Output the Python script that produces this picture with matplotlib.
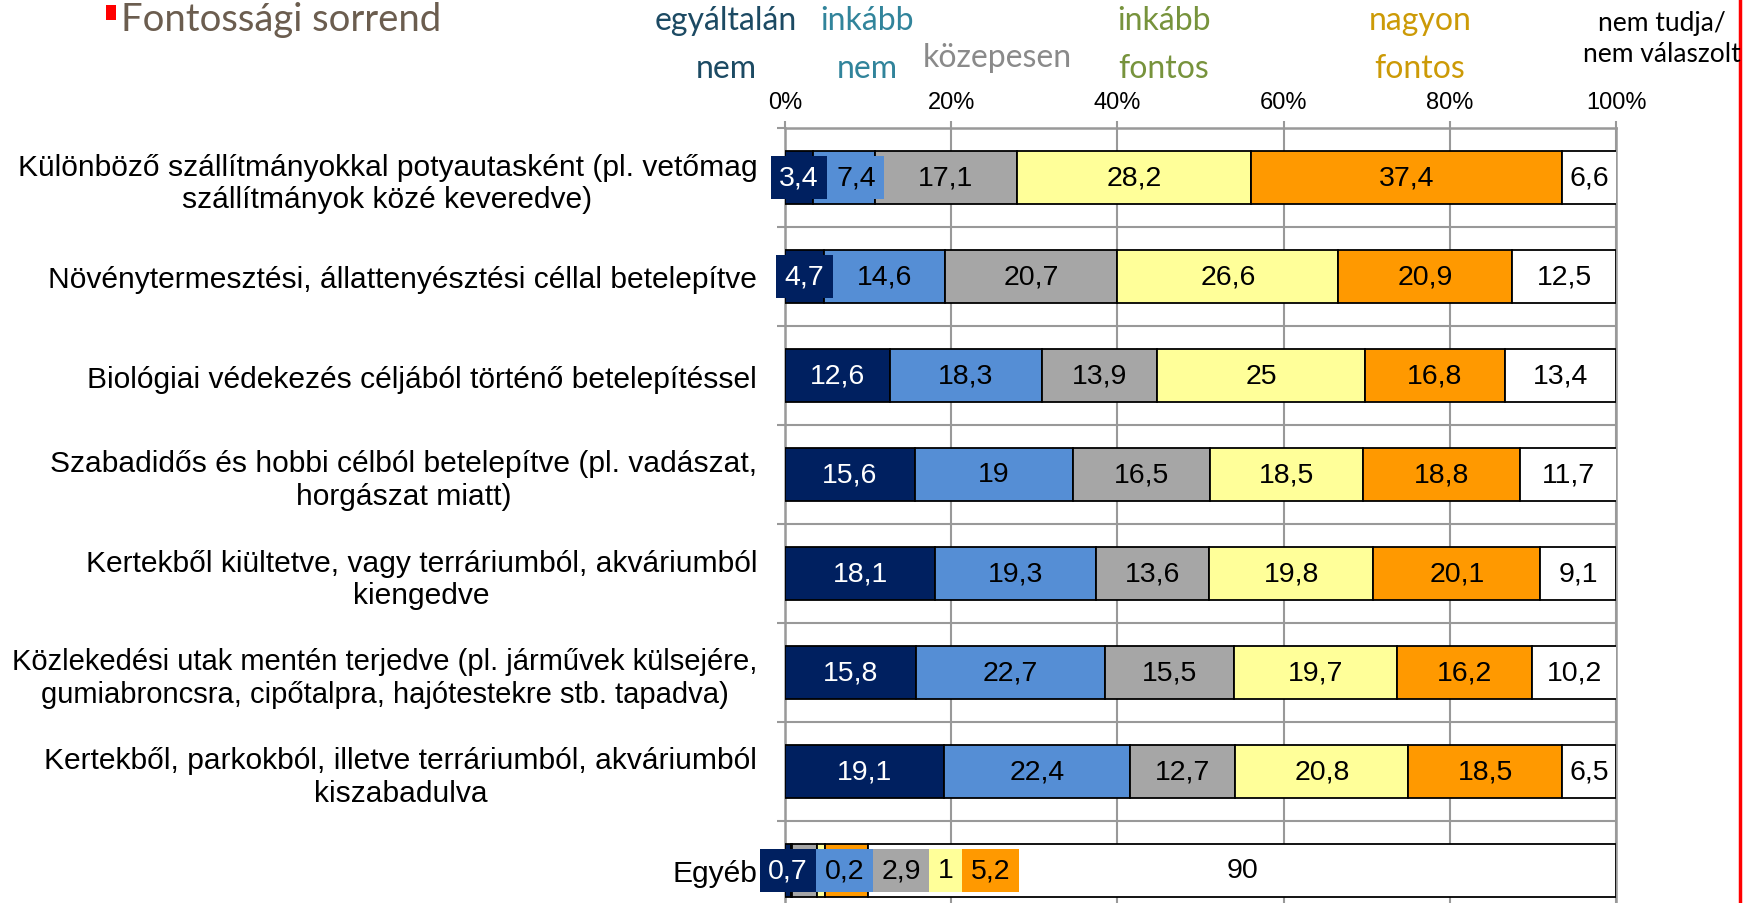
import numpy as np
import matplotlib.pyplot as plt
from matplotlib.lines import Line2D
from matplotlib.patches import Rectangle

# row labels (top to bottom)
categories = [
    "Különböző szállítmányokkal potyautasként (pl. vetőmag\nszállítmányok közé keveredve)",
    "Növénytermesztési, állattenyésztési céllal betelepítve",
    "Biológiai védekezés céljából történő betelepítéssel",
    "Szabadidős és hobbi célból betelepítve (pl. vadászat,\nhorgászat miatt)",
    "Kertekből kiültetve, vagy terráriumból, akváriumból\nkiengedve",
    "Közlekedési utak mentén terjedve (pl. járművek külsejére,\ngumiabroncsra, cipőtalpra, hajótestekre stb. tapadva)",
    "Kertekből, parkokból, illetve terráriumból, akváriumból\nkiszabadulva",
    "Egyéb",
]
levels = ["egyáltalán\nnem", "inkább\nnem", "közepesen", "inkább\nfontos",
          "nagyon\nfontos", "nem tudja/\nnem válaszolt"]

egyaltalan_nem = [3.4, 4.7, 12.6, 15.6, 18.1, 15.8, 19.1, 0.7]
inkabb_nem = [7.4, 14.6, 18.3, 19, 19.3, 22.7, 22.4, 0.2]
kozepesen = [17.1, 20.7, 13.9, 16.5, 13.6, 15.5, 12.7, 2.9]
inkabb_fontos = [28.2, 26.6, 25, 18.5, 19.8, 19.7, 20.8, 1]
nagyon_fontos = [37.4, 20.9, 16.8, 18.8, 20.1, 16.2, 18.5, 5.2]
nem_tudja = [6.6, 12.5, 13.4, 11.7, 9.1, 10.2, 6.5, 90]

xticks = [0, 20, 40, 60, 80, 100]
xticklabels = ["0%", "20%", "40%", "60%", "80%", "100%"]

series = [egyaltalan_nem, inkabb_nem, kozepesen, inkabb_fontos, nagyon_fontos, nem_tudja]
bar_colors = ["#002060", "#558ed5", "#a6a6a6", "#ffff99", "#ff9900", "#ffffff"]
text_colors = ["white", "black", "black", "black", "black", "black"]
head_colors = ["#1c4a63", "#31849b", "#8a8a8a", "#77933c", "#cc9a06", "black"]

W, H = 1746, 904
fig = plt.figure(figsize=(W / 100, H / 100), dpi=100)
fig.patch.set_facecolor("white")

# plot area in pixels: x 785..1616, top at 129, 99 px per row
ax = fig.add_axes([785 / W, 1 - (129 + 8 * 99) / H, 831 / W, 8 * 99 / H])

y = np.arange(len(categories))
grid_col = "#999999"

left = np.zeros(len(categories))
seg_info = []
for vals, col in zip(series, bar_colors):
    vals = np.array(vals, dtype=float)
    ax.barh(y, vals, left=left, height=0.545, color=col, edgecolor="black",
            linewidth=1.3, zorder=3)
    seg_info.append((left.copy(), vals))
    left = left + vals

ax.set_xlim(0, 100)
ax.set_ylim(len(categories) - 0.5, -0.5)

# grid
ax.set_xticks(xticks)
ax.set_xticklabels(xticklabels, fontsize=17, family="Liberation Sans")
ax.xaxis.tick_top()
ax.tick_params(axis="x", direction="out", length=5, width=1.5, color=grid_col, pad=6)
ax.set_yticks(y)
ax.set_yticklabels(categories, fontsize=21.6, family="Liberation Sans",
                   linespacing=1.2)
for lab in ax.get_yticklabels():
    lab.set_multialignment("center")
# the longest label has to stay inside the figure
ax.get_yticklabels()[5].set_fontsize(21.0)
ax.tick_params(axis="y", length=0, pad=20)
ax.set_yticks(np.arange(len(categories) + 1) - 0.5, minor=True)
ax.tick_params(axis="y", which="minor", direction="out", length=6, width=1.5, color=grid_col)
ax.grid(True, axis="x", color=grid_col, linewidth=1.5, zorder=0)
ax.grid(True, axis="y", which="minor", color=grid_col, linewidth=1.5, zorder=0)
ax.set_axisbelow(True)
ax.spines["bottom"].set_visible(False)
for side in ["left", "top", "right"]:
    ax.spines[side].set_color(grid_col)
    ax.spines[side].set_linewidth(1.8)

# value labels
labels = []
for i in range(len(categories)):
    row = []
    for k, (lft, vals) in enumerate(seg_info):
        v = vals[i]
        s = ("%g" % v).replace(".", ",")
        t = ax.text(lft[i] + v / 2, i, s, ha="center", va="center", fontsize=20.5,
                    family="Liberation Sans", color=text_colors[k], zorder=5)
        row.append((t, lft[i], v, k))
    labels.append(row)

# push overlapping labels to the right, give them a filled box
fig.canvas.draw()
r = fig.canvas.get_renderer()
pad = 0.3
for i, row in enumerate(labels):
    prev_right = -1e9
    for t, lft, v, k in row:
        tw = t.get_window_extent(r).width
        x0 = ax.transData.transform((lft, i))[0]
        x1 = ax.transData.transform((lft + v, i))[0]
        cx = (x0 + x1) / 2
        padpx = pad * t.get_fontsize() * 100 / 72
        boxed = tw + 6 > (x1 - x0)
        w = tw + 2 * padpx if boxed else tw
        if cx - w / 2 < prev_right:
            boxed = True
            w = tw + 2 * padpx
            cx = prev_right + w / 2
        prev_right = cx + w / 2
        t.set_x(ax.transData.inverted().transform((cx, 0))[0])
        if boxed:
            t.set_bbox(dict(boxstyle="square,pad=%g" % pad, facecolor=bar_colors[k],
                            edgecolor="none"))

# header labels above the chart (pixel positions)
head_pos = [(726, 45), (867, 45), (997, 58), (1164, 45), (1420, 45), (1662, 39)]
for lab, col, (px, py) in zip(levels, head_colors, head_pos):
    small = lab.startswith("nem tudja")
    fig.text(px / W, 1 - py / H, lab, ha="center", va="center", color=col,
             fontsize=19 if small else 23, family="Lato",
             linespacing=1.35 if small else 1.75)

# slide title with red bullet
fig.patches.append(Rectangle((106 / W, 1 - 21 / H), 10 / W, 15 / H,
                             transform=fig.transFigure, facecolor="#ff0000",
                             edgecolor="none"))
fig.text(121 / W, 1 - 31 / H, "Fontossági sorrend", ha="left", va="baseline",
         fontsize=27.5, family="Lato", color="#6b5d4f")

# red frame line on the right
fig.lines.append(Line2D([1740 / W, 1740 / W], [0, 1], transform=fig.transFigure,
                        color="#ff0000", linewidth=2.5))

fig.savefig("out.png", dpi=100, facecolor="white")
